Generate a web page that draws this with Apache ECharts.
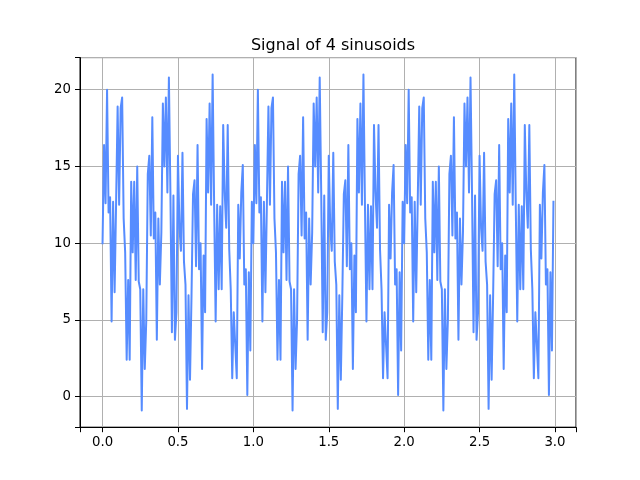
<!DOCTYPE html>
<html>
<head>
<meta charset="utf-8">
<script src="https://cdn.jsdelivr.net/npm/echarts@6/dist/echarts.min.js"></script>
<style>html,body{margin:0;padding:0;background:#fff}#c{width:640px;height:480px}</style>
</head>
<body>
<div id="c"></div>
<script>
// Sample spacing of the signal (seconds) and values
const sampleStep = 0.01;
const signalValues = [
10.0,16.4,12.6,20.0,12.0,13.0,4.9,12.7,6.8,12.7,18.9,12.5,18.8,19.5,11.6,9.4,2.4,7.6,2.4,14.0,
9.4,14.0,7.6,15.0,7.5,7.0,-0.9,7.0,1.8,5.0,14.5,15.7,10.5,18.2,10.3,12.0,3.7,11.6,7.3,10.7,
19.1,15.0,19.5,13.3,20.8,13.3,4.2,13.1,3.7,5.5,15.7,11.0,9.5,15.9,8.8,7.3,-0.8,6.6,1.1,6.6,
13.2,14.1,8.5,16.4,8.3,10.0,1.8,9.2,5.5,18.1,13.3,19.1,12.5,21.0,12.5,4.9,12.5,7.0,12.4,7.0,
17.7,13.3,11.0,17.7,9.6,7.0,1.2,5.5,5.5,1.2,12.5,9.0,13.3,15.1,7.3,8.3,0.1,8.1,3.0,12.7,
10.0,16.4,12.6,20.0,12.0,13.0,4.9,12.7,6.8,12.7,18.9,12.5,18.8,19.5,11.6,9.4,2.4,7.6,2.4,14.0,
9.4,14.0,7.6,15.0,7.5,7.0,-0.9,7.0,1.8,5.0,14.5,15.7,10.5,18.2,10.3,12.0,3.7,11.6,7.3,10.7,
19.1,15.0,19.5,13.3,20.8,13.3,4.2,13.1,3.7,5.5,15.7,11.0,9.5,15.9,8.8,7.3,-0.8,6.6,1.1,6.6,
13.2,14.1,8.5,16.4,8.3,10.0,1.8,9.2,5.5,18.1,13.3,19.1,12.5,21.0,12.5,4.9,12.5,7.0,12.4,7.0,
17.7,13.3,11.0,17.7,9.6,7.0,1.2,5.5,5.5,1.2,12.5,9.0,13.3,15.1,7.3,8.3,0.1,8.1,3.0,12.7,
10.0,16.4,12.6,20.0,12.0,13.0,4.9,12.7,6.8,12.7,18.9,12.5,18.8,19.5,11.6,9.4,2.4,7.6,2.4,14.0,
9.4,14.0,7.6,15.0,7.5,7.0,-0.9,7.0,1.8,5.0,14.5,15.7,10.5,18.2,10.3,12.0,3.7,11.6,7.3,10.7,
19.1,15.0,19.5,13.3,20.8,13.3,4.2,13.1,3.7,5.5,15.7,11.0,9.5,15.9,8.8,7.3,-0.8,6.6,1.1,6.6,
13.2,14.1,8.5,16.4,8.3,10.0,1.8,9.2,5.5,18.1,13.3,19.1,12.5,21.0,12.5,4.9,12.5,7.0,12.4,7.0,
17.7,13.3,11.0,17.7,9.6,7.0,1.2,5.5,5.5,1.2,12.5,9.0,13.3,15.1,7.3,8.3,0.1,8.1,3.0,12.7
];
const xTicks = [0.0, 0.5, 1.0, 1.5, 2.0, 2.5, 3.0];
const yTicks = [0, 5, 10, 15, 20];
const titleText = 'Signal of 4 sinusoids';

const points = signalValues.map((v, i) => [Math.round(i * sampleStep * 100) / 100, v]);
const xs = points.map(p => p[0]);
const xMin0 = Math.min(...xs), xMax0 = Math.max(...xs);
const yMin0 = Math.min(...signalValues), yMax0 = Math.max(...signalValues);
const xPad = (xMax0 - xMin0) * 0.05, yPad = (yMax0 - yMin0) * 0.05;

const font = 'DejaVu Sans';
const axisBlack = {color: '#000000', width: 1};
const chart = echarts.init(document.getElementById('c'), null, {renderer: 'canvas'});
chart.setOption({
  animation: false,
  backgroundColor: '#ffffff',
  title: {
    text: titleText, left: 328, top: 33, textAlign: 'center',
    textStyle: {fontFamily: font, fontSize: 16, fontWeight: 'normal', color: '#000'}
  },
  grid: {left: 80, right: 64, top: 57.6, bottom: 52.8, show: true, borderColor: '#000', borderWidth: 1, backgroundColor: 'transparent'},
  xAxis: {
    type: 'value', min: xMin0 - xPad, max: xMax0 + xPad,
    axisLine: {show: true, onZero: false, lineStyle: axisBlack},
    axisTick: {show: true, inside: false, length: 5, lineStyle: axisBlack},
    axisLabel: {customValues: xTicks, formatter: v => v.toFixed(1), color: '#000', fontFamily: font, fontSize: 13.3, margin: 9},
    splitLine: {show: true, lineStyle: {color: '#b0b0b0', width: 1}}
  },
  yAxis: {
    type: 'value', min: yMin0 - yPad, max: yMax0 + yPad,
    axisLine: {show: true, onZero: false, lineStyle: axisBlack},
    axisTick: {show: true, inside: false, length: 5, lineStyle: axisBlack},
    axisLabel: {customValues: yTicks, formatter: v => String(v), color: '#000', fontFamily: font, fontSize: 13.3, margin: 9},
    splitLine: {show: true, lineStyle: {color: '#b0b0b0', width: 1}}
  },
  series: [{
    type: 'line', data: points, showSymbol: false, symbol: 'none',
    lineStyle: {color: '#568cff', width: 2, join: 'round', cap: 'square'}, itemStyle: {color: '#568cff'},
    sampling: null, z: 3
  }]
});
</script>
</body>
</html>
